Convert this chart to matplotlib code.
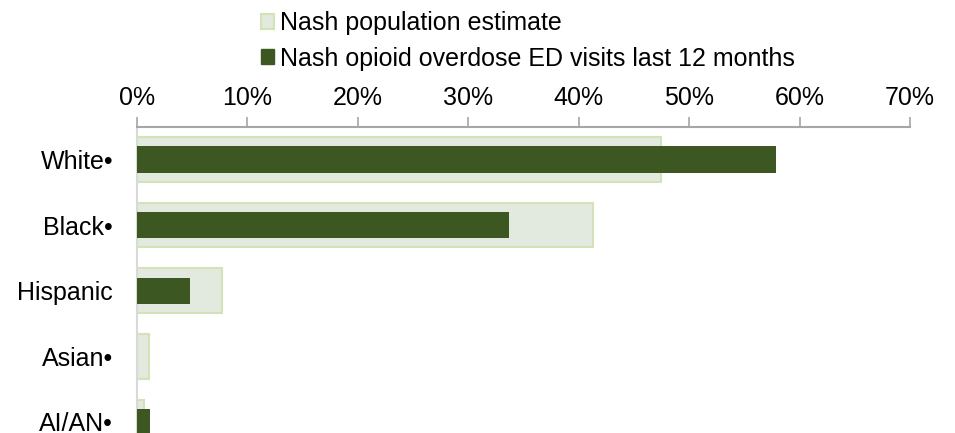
import matplotlib.pyplot as plt
from matplotlib.patches import Patch
from matplotlib.ticker import PercentFormatter

plt.rcParams['font.family'] = ['Liberation Sans', 'DejaVu Sans']

# Data (percent)
groups = ['White\u2022', 'Black\u2022', 'Hispanic', 'Asian\u2022', 'AI/AN\u2022']
population = [47.5, 41.3, 7.7, 1.1, 0.7]
ed_visits = [57.9, 33.7, 4.8, 0.0, 1.2]

light_fill = '#e2eadf'
light_edge = '#d3e3b6'
dark_green = '#3d5723'

fig = plt.figure(figsize=(9.55, 4.33), dpi=100)
ax = fig.add_axes([0.1431, 0.0, 0.8098, 0.7074])

y = list(range(len(groups)))
ax.barh(y, population, height=0.68, color=light_fill, edgecolor=light_edge,
        linewidth=1.5, zorder=2)
ax.barh(y, ed_visits, height=0.40, color=dark_green, linewidth=0, zorder=3)

ax.set_xlim(0, 70)
ax.set_ylim(4.17, -0.5)
ax.set_yticks(y)
ax.set_yticklabels(groups, fontsize=18)
ax.set_xticks(range(0, 71, 10))
ax.xaxis.set_major_formatter(PercentFormatter(decimals=0))
ax.xaxis.tick_top()
ax.tick_params(axis='x', direction='out', length=7, width=1.2, color='#a6a6a6',
               labelsize=18, pad=5)
ax.tick_params(axis='y', length=0, pad=17)

for side in ['right', 'bottom']:
    ax.spines[side].set_visible(False)
ax.spines['top'].set_color('#a6a6a6')
ax.spines['top'].set_linewidth(1.5)
ax.spines['left'].set_color('#d9d9d9')
ax.spines['left'].set_linewidth(1.5)

handles = [Patch(facecolor=light_fill, edgecolor=light_edge, linewidth=1.5),
           Patch(facecolor=dark_green, edgecolor=dark_green)]
labels = ['Nash population estimate', 'Nash opioid overdose ED visits last 12 months']
fig.legend(handles, labels, loc='upper left', bbox_to_anchor=(0.263, 0.997),
           frameon=False, fontsize=18, handlelength=0.52, handleheight=0.52,
           handletextpad=0.24, labelspacing=0.45, borderaxespad=0)

fig.savefig('out.png', dpi=100)
